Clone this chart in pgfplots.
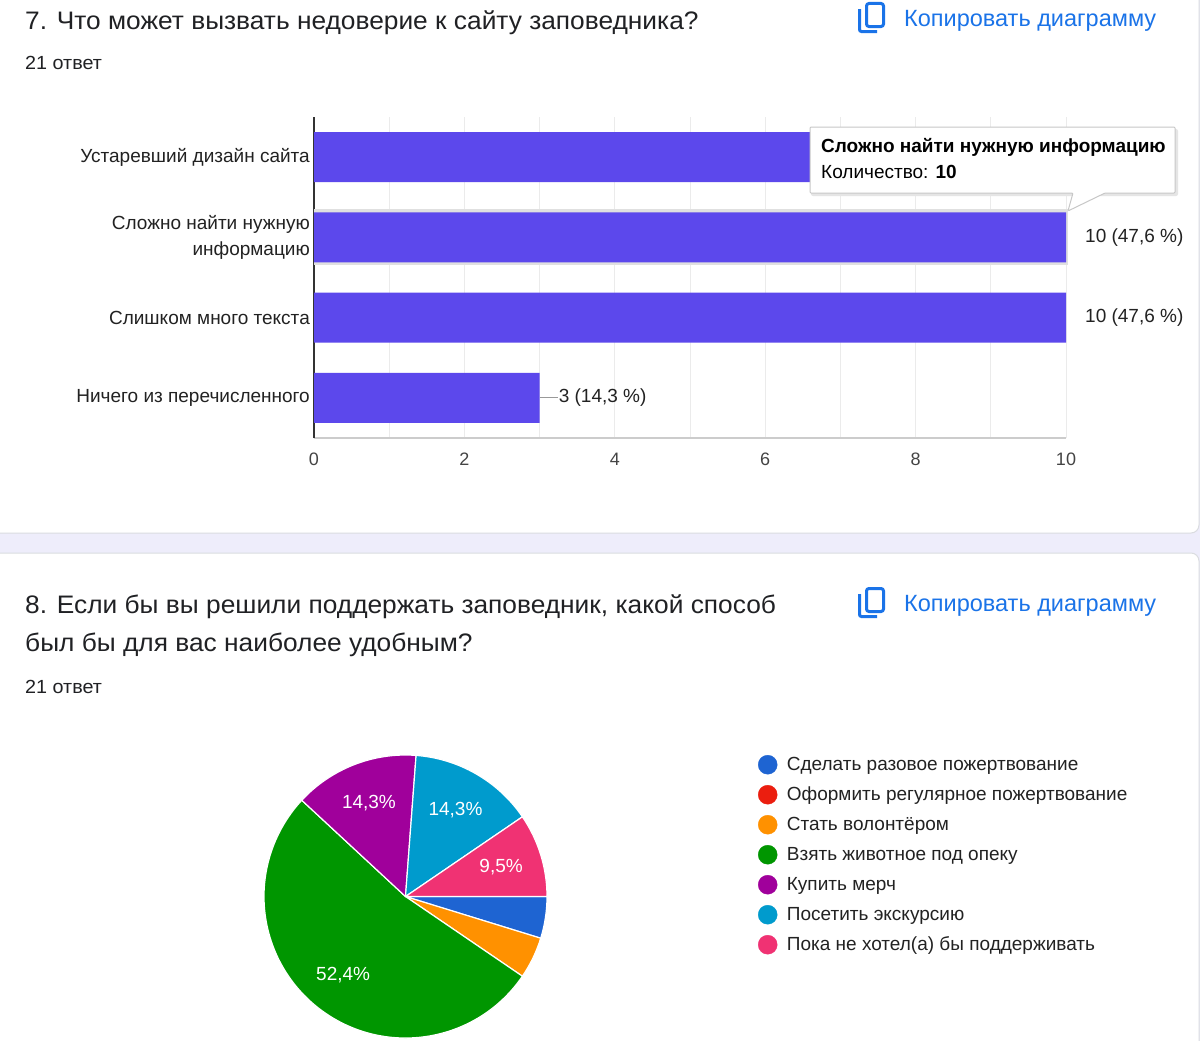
\documentclass[border=0pt]{standalone}
\usepackage{fontspec}
\setmainfont{Liberation Sans}
\newfontfamily\headfam[FakeStretch=1.04]{Liberation Sans}
\usepackage{pgfplots}
\pgfplotsset{compat=1.18}
\definecolor{barc}{RGB}{92,72,236}
\definecolor{titlec}{RGB}{32,33,36}
\definecolor{labc}{RGB}{34,34,34}
\definecolor{tickc}{RGB}{68,68,68}
\definecolor{copyc}{RGB}{26,115,232}
\definecolor{bandc}{RGB}{238,237,251}
\definecolor{cardc}{RGB}{218,220,224}
\definecolor{gridc}{RGB}{235,235,235}
\definecolor{axc}{RGB}{204,204,204}
\definecolor{yaxc}{RGB}{51,51,51}
\definecolor{leadc}{RGB}{153,153,153}
\definecolor{pblue}{RGB}{30,100,210}
\definecolor{pred}{RGB}{235,30,15}
\definecolor{porange}{RGB}{255,145,0}
\definecolor{pgreen}{RGB}{0,150,0}
\definecolor{ppurple}{RGB}{160,0,155}
\definecolor{pcyan}{RGB}{0,155,205}
\definecolor{ppink}{RGB}{240,50,115}
\newcommand\lab{\fontsize{19bp}{22bp}\selectfont}
\newcommand\tickf{\fontsize{18bp}{21bp}\selectfont}
\newcommand\titlef{\headfam\fontsize{25.3bp}{30bp}\selectfont}
\newcommand\subf{\headfam\fontsize{19bp}{22bp}\selectfont}
\newcommand\copyf{\fontsize{23.5bp}{27bp}\selectfont}
\begin{document}
\begin{tikzpicture}
\path[use as bounding box] (0bp,0bp) rectangle (1200bp,-1041bp);
\begin{scope}[x=1bp,y=-1bp]
\fill[bandc] (0,0) rectangle (1200,1041);
\filldraw[fill=white, draw=cardc, line width=1bp, rounded corners=8bp] (-20,-20) rectangle (1199,533);
\filldraw[fill=white, draw=cardc, line width=1bp, rounded corners=8bp] (-20,553) rectangle (1199,1070);
% headers
\node[anchor=base west, inner sep=0pt, font=\titlef, text=titlec] at (25,29.5) {7. Что может вызвать недоверие к сайту заповедника?};
\node[anchor=base west, inner sep=0pt, font=\subf, text=titlec] at (25,69.5) {21 ответ};
\node[anchor=base west, inner sep=0pt, font=\titlef, text=titlec] at (25,613) {8. Если бы вы решили поддержать заповедник, какой способ};
\node[anchor=base west, inner sep=0pt, font=\titlef, text=titlec] at (25,651) {был бы для вас наиболее удобным?};
\node[anchor=base west, inner sep=0pt, font=\subf, text=titlec] at (25,693) {21 ответ};
\foreach \dy in {0,585}{
  \draw[copyc, line width=3bp, rounded corners=2.5bp] (866.5,3.5+\dy) rectangle (883.5,26.5+\dy);
  \draw[copyc, line width=3bp, rounded corners=2bp] (859.5,9+\dy) -- (859.5,31.5+\dy) -- (877,31.5+\dy);
  \node[anchor=base west, inner sep=0pt, font=\copyf, text=copyc] at (904,26.5+\dy) {Копировать диаграмму};
}
\end{scope}
% bar chart
\begin{axis}[
  at={(690bp,-277.5bp)}, anchor=center,
  scale only axis, width=752bp, height=321bp,
  xmin=0, xmax=10, ymin=-0.5, ymax=3.5,
  xtick={0,2,...,10}, minor xtick={1,3,...,9},
  ytick={0,1,2,3},
  yticklabels={Ничего из перечисленного, Слишком много текста, {Сложно найти нужную\\информацию}, Устаревший дизайн сайта},
  yticklabel style={align=right, anchor=east, inner sep=0pt, xshift=-4bp, font=\fontsize{19bp}{26.5bp}\selectfont, text=labc},
  xticklabel style={inner sep=0pt, anchor=north, yshift=-15bp, font=\tickf, text=tickc},
  /pgf/number format/assume math mode=true,
  xmajorgrids, xminorgrids,
  major grid style={draw=gridc, line width=1bp},
  minor grid style={draw=gridc, line width=1bp},
  axis x line*=bottom, axis y line*=left,
  x axis line style={draw=axc, line width=1.2bp, -},
  y axis line style={draw=yaxc, line width=1.5bp, -},
  major tick length=0pt, minor tick length=0pt,
  clip=false,
]
\addplot[xbar, bar shift=0pt, bar width=56bp, fill=black!12, draw=none] coordinates {(10.03,2)};
\addplot[draw=leadc, line width=1.2bp, no marks] coordinates {(3,0) (3.24,0)};
\addplot[xbar, bar shift=0pt, bar width=50bp, fill=barc, draw=none,
  nodes near coords, point meta=explicit symbolic,
  nodes near coords style={anchor=west, inner sep=0pt, xshift=19bp, font=\lab, text=labc}]
  coordinates {(8,3) [{}] (10,2) [10 (47,6 \%)] (10,1) [10 (47,6 \%)] (3,0) [3 (14,3 \%)]};
\end{axis}
% tooltip
\begin{scope}[x=1bp,y=-1bp]
\fill[black!10, rounded corners=2bp] (811,129) rectangle (1178,196);
\filldraw[fill=white, draw=black!22, line width=1bp, rounded corners=1bp] (810,127) -- (1175,127) -- (1175,193) -- (1105,193) -- (1068,211) -- (1073,193) -- (810,193) -- cycle;
\node[anchor=base west, inner sep=0pt, font=\lab\bfseries, text=black] at (821,152.5) {Сложно найти нужную информацию};
\node[anchor=base west, inner sep=0pt, font=\lab, text=black] at (821,178.5) {Количество: \textbf{10}};
\end{scope}
% pie chart
\begin{axis}[
  at={(405.5bp,-896.5bp)}, anchor=center,
  scale only axis, width=283bp, height=283bp,
  xmin=-1, xmax=1, ymin=-1, ymax=1, hide axis, clip=false,
  legend style={at={(axis description cs:1.7456,1.0)}, anchor=north west, draw=none, fill=none,
    inner sep=0pt, outer sep=0pt, row sep=9.3bp, font=\lab, text=labc,
    nodes={inner sep=0pt, text height=14bp, text depth=5bp},
    /tikz/every odd column/.append style={column sep=9.5bp}},
  legend cell align=left,
  legend image code/.code={\fill[#1] (0bp,1.5bp) circle (9.5bp);},
]
\addlegendimage{pblue}\addlegendentry{Сделать разовое пожертвование}
\addlegendimage{pred}\addlegendentry{Оформить регулярное пожертвование}
\addlegendimage{porange}\addlegendentry{Стать волонтёром}
\addlegendimage{pgreen}\addlegendentry{Взять животное под опеку}
\addlegendimage{ppurple}\addlegendentry{Купить мерч}
\addlegendimage{pcyan}\addlegendentry{Посетить экскурсию}
\addlegendimage{ppink}\addlegendentry{Пока не хотел(а) бы поддерживать}
\pgfmathsetmacro\pieang{360/21}
\gdef\cumang{0}
\foreach \v/\c/\t in {1/pblue/, 0/pred/, 1/porange/, 11/pgreen/{52,4\%}, 3/ppurple/{14,3\%}, 3/pcyan/{14,3\%}, 2/ppink/{9,5\%}}{
  \ifnum\v>0
    \pgfmathsetmacro\sa{-\cumang}
    \pgfmathsetmacro\ea{-\cumang-\v*\pieang}
    \pgfmathsetmacro\ma{(\sa+\ea)/2}
    \edef\temp{\noexpand\filldraw[fill=\c, draw=white, line width=1.2bp, line join=round] (axis cs:0,0) -- (axis cs:{cos(\sa)},{sin(\sa)}) arc[start angle=\sa, end angle=\ea, radius=141.5bp] -- cycle;}
    \temp
    \ifx\t\empty\else
      \edef\temp{\noexpand\node[font=\noexpand\lab, text=white] at (axis cs:{0.707*cos(\ma)},{0.707*sin(\ma)}) {\t};}
      \temp
    \fi
    \pgfmathsetmacro\nc{\cumang+\v*\pieang}
    \xdef\cumang{\nc}
  \fi
}
\end{axis}
\end{tikzpicture}
\end{document}
